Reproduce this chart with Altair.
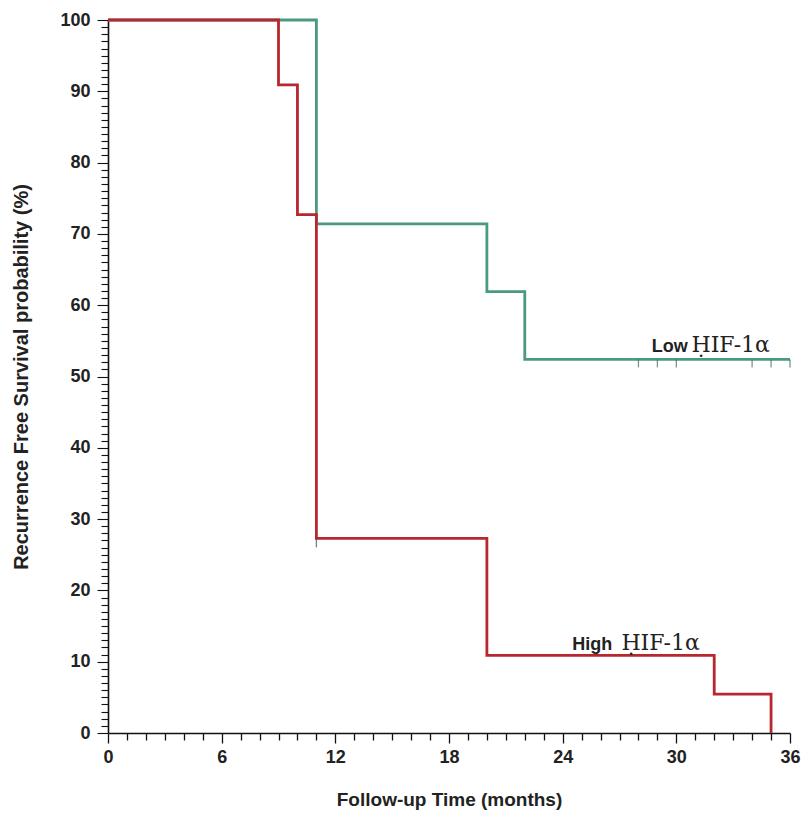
import altair as alt
import pandas as pd

# Kaplan-Meier step curves (months, survival %)
low_time = [0, 11, 20, 22, 36]
low_surv = [100, 71.4, 61.9, 52.4, 52.4]
high_time = [0, 9, 10, 11, 20, 32, 35]
high_surv = [100, 90.9, 72.7, 27.3, 10.9, 5.45, 0]

# censored observations
low_cens_time = [28, 29, 30, 34, 35, 36]
low_cens_surv = [52.4] * 6
high_cens_time = [11]
high_cens_surv = [27.3]

# annotations
grp_words = ["Low", "High"]
grp_word_x = [28.7, 24.5]
grp_word_y = [53.4, 11.6]
hif_text = ["ḤIF-1α", "ḤIF-1α"]
hif_x = [30.8, 27.1]

x_ticks = list(range(0, 37))      # minor every month, labelled every 6
y_ticks = list(range(0, 101))     # minor every 1 %, labelled every 10

RED = "#b8262e"
GREEN = "#4a9a7e"

low_df = pd.DataFrame({"t": low_time, "s": low_surv})
high_df = pd.DataFrame({"t": high_time, "s": high_surv})
lowc = pd.DataFrame({"t": low_cens_time, "s": low_cens_surv})
highc = pd.DataFrame({"t": high_cens_time, "s": high_cens_surv})
ann = pd.DataFrame({"w": grp_words, "wx": grp_word_x, "wy": grp_word_y,
                    "h": hif_text, "hx": hif_x})

xscale = alt.Scale(domain=[0, 36], nice=False, zero=False)
yscale = alt.Scale(domain=[0, 100], nice=False, zero=False)

xaxis = alt.Axis(
    values=x_ticks, title="Follow-up Time (months)", grid=False,
    labelExpr="datum.value % 6 === 0 ? datum.label : ''",
    labelOverlap=False, labelFlush=False,
    tickSize={"condition": {"test": "datum.value % 6 === 0", "value": 10}, "value": 7},
    tickColor="#111", tickWidth=1.3, domainColor="#111", domainWidth=1.6,
    labelFont="Liberation Sans", labelFontWeight="bold", labelFontSize=18,
    labelColor="#222", labelPadding=5,
    titleFont="Liberation Sans", titleFontWeight="bold", titleFontSize=19,
    titleColor="#222", titlePadding=24,
)
yaxis = alt.Axis(
    values=y_ticks, title="Recurrence Free Survival probability (%)", grid=False,
    labelExpr="datum.value % 10 === 0 ? datum.label : ''",
    labelOverlap=False, labelFlush=False,
    tickSize={"condition": {"test": "datum.value % 10 === 0", "value": 11}, "value": 7},
    tickColor="#111", tickWidth=1.1, domainColor="#111", domainWidth=1.6,
    labelFont="Liberation Sans", labelFontWeight="bold", labelFontSize=18,
    labelColor="#222", labelPadding=7,
    titleFont="Liberation Sans", titleFontWeight="bold", titleFontSize=20,
    titleColor="#222", titlePadding=28,
)

x_enc = alt.X("t:Q", scale=xscale, axis=xaxis)
y_enc = alt.Y("s:Q", scale=yscale, axis=yaxis)

low_line = alt.Chart(low_df).mark_line(interpolate="step-after", color=GREEN, strokeWidth=2.8).encode(
    x=x_enc, y=y_enc)
high_line = alt.Chart(high_df).mark_line(interpolate="step-after", color=RED, strokeWidth=2.8).encode(
    x=x_enc, y=y_enc)
low_c = alt.Chart(lowc).mark_tick(orient="vertical", size=8, yOffset=4, thickness=1.3, color="#3d6e5c").encode(
    x=x_enc, y=y_enc)
high_c = alt.Chart(highc).mark_tick(orient="vertical", size=9, yOffset=4.5, thickness=1.3, color="#444").encode(
    x=x_enc, y=y_enc)

words = alt.Chart(ann).mark_text(align="left", baseline="alphabetic", font="Liberation Sans",
                                 fontWeight="bold", fontSize=18, color="#222").encode(
    x=alt.X("wx:Q", scale=xscale, axis=xaxis), y=alt.Y("wy:Q", scale=yscale, axis=yaxis), text="w:N")
hifs = alt.Chart(ann).mark_text(align="left", baseline="alphabetic", font="DejaVu Serif",
                                fontSize=22, color="#222").encode(
    x=alt.X("hx:Q", scale=xscale, axis=xaxis), y=alt.Y("wy:Q", scale=yscale, axis=yaxis), text="h:N")

chart = alt.layer(low_line, high_line, low_c, high_c, words, hifs).properties(
    width=682, height=713,
    autosize=alt.AutoSizeParams(type="none"),
    padding={"left": 108, "top": 20, "right": 13, "bottom": 81},
    background="white",
).configure_view(stroke=None)

chart.save("out.html", embed_options={"renderer": "svg", "actions": False})
